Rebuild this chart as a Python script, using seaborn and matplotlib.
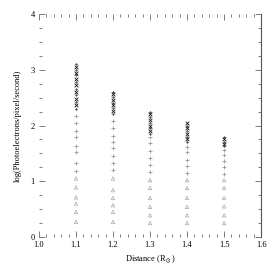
import numpy as np
import pandas as pd
import matplotlib
matplotlib.use("Agg")
import matplotlib.pyplot as plt
from matplotlib.ticker import MultipleLocator
import seaborn as sns

# log intensity, per distance and marker group
distances = [1.1, 1.2, 1.3, 1.4, 1.5]

low_vals = {
    1.1: [0.27, 0.45, 0.60, 0.71, 0.89, 1.05],
    1.2: [0.27, 0.45, 0.57, 0.70, 0.84, 1.05],
    1.3: [0.25, 0.39, 0.54, 0.70, 0.88, 1.02],
    1.4: [0.25, 0.39, 0.54, 0.70, 0.88, 1.02],
    1.5: [0.25, 0.39, 0.55, 0.70, 0.88, 1.02],
}
mid_vals = {
    1.1: [1.18, 1.32, 1.52, 1.64, 1.79, 1.91, 2.04, 2.18],
    1.2: [1.20, 1.32, 1.46, 1.59, 1.70, 1.82, 1.96, 2.09],
    1.3: [1.16, 1.29, 1.41, 1.55, 1.68, 1.79],
    1.4: [1.14, 1.27, 1.39, 1.52, 1.62],
    1.5: [1.13, 1.25, 1.37, 1.48, 1.56],
}
high_vals = {
    1.1: [2.30, 2.42, 2.54, 2.66, 2.78, 2.90, 3.00, 3.10],
    1.2: [2.21, 2.31, 2.41, 2.51, 2.60],
    1.3: [1.85, 1.95, 2.05, 2.15, 2.25],
    1.4: [1.70, 1.80, 1.90, 2.00],
    1.5: [1.63, 1.71, 1.79],
}
top_vals = {
    1.1: [2.36, 2.48, 2.60, 2.72, 2.84, 2.95, 3.05],
    1.2: [2.26, 2.36, 2.46, 2.56],
    1.3: [1.90, 2.00, 2.10, 2.20],
    1.4: [1.75, 1.85, 1.95, 2.04],
    1.5: [1.67, 1.75],
}


def to_frame(vals):
    rows = [(d, v) for d in distances for v in vals[d]]
    return pd.DataFrame(rows, columns=["dist", "logi"])


plt.rcParams["font.family"] = ["Liberation Serif", "DejaVu Serif"]
plt.rcParams["mathtext.fontset"] = "stix"

fig = plt.figure(figsize=(2.74, 2.66), dpi=100)
ax = fig.add_axes([0.142, 0.109, 0.811, 0.838])

groups = [
    (low_vals, "^", "#a8a8a8", 6, "none"),
    (mid_vals, "+", "#999999", 7, None),
    (high_vals, "D", "#444444", 4, None),
    (top_vals, "x", "#111111", 7, None),
]
for vals, mk, col, sz, fc in groups:
    df = to_frame(vals)
    if fc == "none":
        sns.scatterplot(data=df, x="dist", y="logi", ax=ax, marker=mk, s=sz,
                        facecolors="none", edgecolor=col, linewidth=0.5)
    else:
        sns.scatterplot(data=df, x="dist", y="logi", ax=ax, marker=mk, s=sz,
                        color=col, linewidth=0.6)

ax.set_xlim(1.0, 1.6)
ax.set_ylim(0, 4)
ax.xaxis.set_major_locator(MultipleLocator(0.1))
ax.xaxis.set_minor_locator(MultipleLocator(0.02))
ax.yaxis.set_major_locator(MultipleLocator(1))
ax.yaxis.set_minor_locator(MultipleLocator(0.25))
ax.set_xticklabels([f"{v:.1f}" for v in ax.get_xticks()])

for s in ["left", "top", "bottom"]:
    ax.spines[s].set_visible(False)
ax.spines["right"].set_color("#555555")
ax.spines["right"].set_linewidth(0.8)

ax.tick_params(which="both", direction="in", color="#666666", width=0.6,
               labelsize=6, top=True, right=True, pad=3)
ax.tick_params(which="major", length=4)
ax.tick_params(which="minor", length=2)

ax.set_xlabel(r"Distance (R$_\odot$)", fontsize=6, labelpad=3)
ax.set_ylabel("log(Photoelectrons/pixel/second)", fontsize=6, labelpad=6)

fig.savefig("out.png", dpi=100)
